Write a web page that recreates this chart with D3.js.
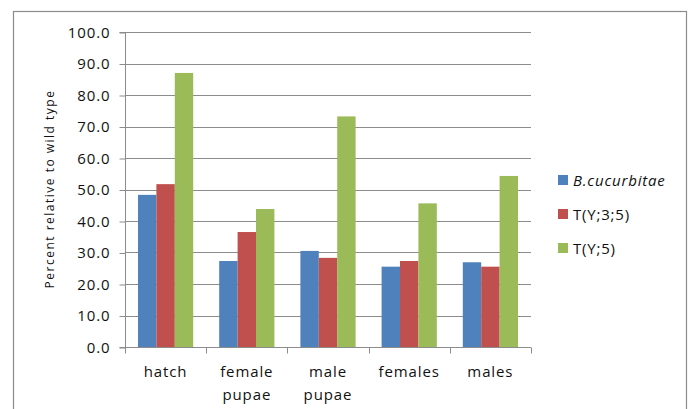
<!DOCTYPE html>
<html>
<head>
<meta charset="utf-8">
<script src="https://cdn.jsdelivr.net/npm/d3@7"></script>
<style>
  html, body { margin: 0; padding: 0; background: #fff; }
  svg text { font-family: "Open Sans", "DejaVu Sans", sans-serif; fill: #111; }
</style>
</head>
<body>
<svg id="chart" width="690" height="409"></svg>
<script>
// Categories (two-line labels) and the three series
const categories = ["hatch", "female pupae", "male pupae", "females", "males"];
const categoryLines = [["hatch"], ["female", "pupae"], ["male", "pupae"], ["females"], ["males"]];
const seriesNames = ["B.cucurbitae", "T(Y;3;5)", "T(Y;5)"];
const bCucurbitae = [48.3, 27.3, 30.5, 25.5, 26.9];
const tY35 = [51.7, 36.5, 28.3, 27.3, 25.5];
const tY5 = [87.0, 43.8, 73.2, 45.6, 54.3];
const yTicks = [0, 10, 20, 30, 40, 50, 60, 70, 80, 90, 100];
const colors = ["#4F81BD", "#C0504D", "#9BBB59"];

const series = [bCucurbitae, tY35, tY5];

const svg = d3.select("#chart");

// chart frame
svg.append("rect")
  .attr("x", 13.5).attr("y", 11.5)
  .attr("width", 673).attr("height", 420)
  .attr("fill", "none").attr("stroke", "#8c8c8c").attr("stroke-width", 1.2);

const plot = { left: 125, right: 531, top: 32, bottom: 347 };

const x0 = d3.scaleBand().domain(categories).range([plot.left, plot.right]).padding(0);
const gap = x0.bandwidth() * 0.16;
const x1 = d3.scaleBand().domain(seriesNames).range([gap, x0.bandwidth() - gap]).padding(0);
const y = d3.scaleLinear().domain([0, 100]).range([plot.bottom, plot.top]);

// horizontal gridlines
svg.append("g").selectAll("line")
  .data(yTicks.filter(t => t > 0))
  .join("line")
  .attr("x1", plot.left).attr("x2", plot.right)
  .attr("y1", d => Math.round(y(d)) + 0.5).attr("y2", d => Math.round(y(d)) + 0.5)
  .attr("stroke", "#8c8c8c").attr("stroke-width", 1);

// bars
const groups = svg.append("g").selectAll("g")
  .data(categories)
  .join("g")
  .attr("transform", d => `translate(${x0(d)},0)`);

groups.selectAll("rect")
  .data((d, i) => series.map((s, k) => ({ name: seriesNames[k], value: s[i], k })))
  .join("rect")
  .attr("x", d => x1(d.name))
  .attr("width", x1.bandwidth())
  .attr("y", d => y(d.value))
  .attr("height", d => y(0) - y(d.value))
  .attr("fill", d => colors[d.k]);

// y axis
const yAxis = d3.axisLeft(y).tickValues(yTicks).tickFormat(d3.format(".1f")).tickSize(6).tickPadding(9);
const gy = svg.append("g").attr("transform", `translate(${plot.left + 0.5},0.5)`).call(yAxis);
gy.select(".domain").attr("stroke", "#8c8c8c").attr("d", `M-6,${plot.top}H0V${plot.bottom}H-6`);
gy.selectAll(".tick line").attr("stroke", "#8c8c8c");
gy.selectAll(".tick text").style("font-size", "15px").style("letter-spacing", "0.9px").attr("fill", "#111");

// x axis
const xAxis = d3.axisBottom(x0).tickValues([]).tickSize(0);
const gx = svg.append("g").attr("transform", `translate(0,${plot.bottom + 0.5})`).call(xAxis);
gx.select(".domain").attr("stroke", "#8c8c8c").attr("d", `M${plot.left},0H${plot.right}`);
const edges = categories.map(c => x0(c)).concat([plot.right]);
gx.selectAll("line.sep").data(edges).join("line")
  .attr("class", "sep")
  .attr("x1", d => Math.round(d) + 0.5).attr("x2", d => Math.round(d) + 0.5)
  .attr("y1", 0).attr("y2", 6).attr("stroke", "#8c8c8c");

// category labels
const catLabels = svg.append("g").selectAll("text")
  .data(categories)
  .join("text")
  .attr("x", d => x0(d) + x0.bandwidth() / 2)
  .attr("y", 377)
  .attr("text-anchor", "middle")
  .style("font-size", "15px")
  .style("letter-spacing", "0.9px");
catLabels.selectAll("tspan")
  .data((d, i) => categoryLines[i])
  .join("tspan")
  .attr("x", function () { return d3.select(this.parentNode).attr("x"); })
  .attr("dy", (d, j) => j === 0 ? 0 : 23)
  .text(d => d);

// y axis title
svg.append("text")
  .attr("transform", "translate(54,189) rotate(-90)")
  .attr("text-anchor", "middle")
  .style("font-size", "12px")
  .style("letter-spacing", "1.5px")
  .text("Percent relative to wild type");

// legend
const legend = svg.append("g").selectAll("g")
  .data(seriesNames)
  .join("g")
  .attr("transform", (d, i) => `translate(558,${180 + i * 34})`);
legend.append("rect")
  .attr("x", 0).attr("y", -5).attr("width", 10).attr("height", 10)
  .attr("fill", (d, i) => colors[i]);
legend.append("text")
  .attr("x", 15).attr("y", 5.5)
  .style("font-size", "15px")
  .style("letter-spacing", "0.8px")
  .style("font-style", (d, i) => i === 0 ? "italic" : "normal")
  .text(d => d);
</script>
</body>
</html>
